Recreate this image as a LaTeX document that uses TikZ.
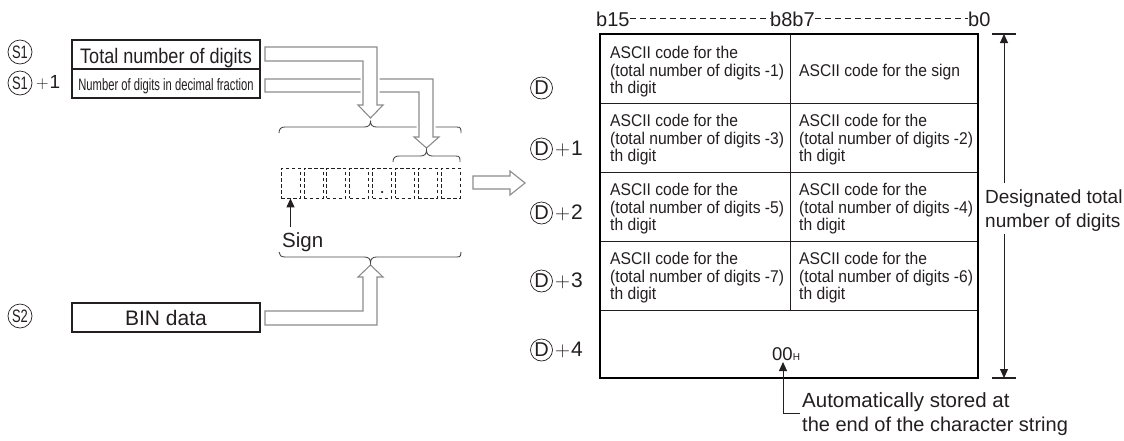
\documentclass[tikz,border=0pt]{standalone}
\usepackage{fontspec}
\usepackage{graphicx}
\setmainfont{Liberation Sans}
\usetikzlibrary{arrows.meta}
\definecolor{ink}{HTML}{231F20}
\definecolor{agray}{HTML}{8C8C8C}
\definecolor{bgray}{HTML}{4A4A4A}
\newcommand{\fsz}[1]{\fontsize{#1}{#1}\selectfont}
\newcommand{\cellfont}{\fontsize{17}{17.5}\selectfont}
\newcommand{\cellthree}[1]{\scalebox{0.92}[1]{\begin{tabular}{@{}l@{}}ASCII code for the\\(total number of digits -#1)\\th digit\end{tabular}}}
\newcommand{\hollowarrow}[1]{\draw[halo] #1; \draw[hollowline] #1;}
\begin{document}
\begin{tikzpicture}[x=1pt,y=-1pt,
 txt/.style={inner sep=0pt, text=ink},
 scirc/.style={circle, draw=ink, line width=0.7pt, minimum size=24pt, inner sep=0pt, text=ink, font=\fsz{18}},
 dcirc/.style={circle, draw=ink, line width=0.7pt, minimum size=22pt, inner sep=0pt, text=ink, font=\fsz{20}},
 cell/.style={inner sep=0pt, anchor=west, text=ink, font=\cellfont},
 dbox/.style={draw=ink, line width=0.8pt, dash pattern=on 3.5pt off 2.5pt, minimum width=19pt, minimum height=30pt, inner sep=0pt},
 halo/.style={draw=white, line width=5pt, line join=round},
 hollowline/.style={draw=agray, line width=1.1pt, fill=white},
 brace/.style={draw=bgray, line width=0.9pt},
 tip/.style={-{Triangle[length=9pt,width=8pt]}, line width=1pt, draw=ink},
 plus/.style={inner sep=0pt, anchor=west, text=ink, font=\fsz{21}},
]
\useasboundingbox (0,0) rectangle (1124,440);
\fill[white] (0,0) rectangle (1124,440);

% ---------- left: source operands ----------
\node[scirc] (s1) at (20,52) {\scalebox{0.72}[1]{S1}};
\node[scirc] (s1b) at (20,83) {\scalebox{0.72}[1]{S1}};
\node[plus, font=\fsz{19}] (s1p) at (36,83) {$+$\kern1pt 1};
\node[scirc] (s2) at (20,316) {\scalebox{0.72}[1]{S2}};

\node[draw=ink, line width=2pt, minimum width=188pt, minimum height=58pt, inner sep=0pt] (s1box) at (166,69) {};
\draw[ink, line width=1.3pt] (s1box.west) -- (s1box.east);
\node[txt, anchor=base, font=\fsz{21}] (tot) at (166,63.5) {\scalebox{0.86}[1]{Total number of digits}};
\node[txt, anchor=base, font=\fsz{16.5}] (dec) at (166,90.5) {\scalebox{0.68}[1]{Number of digits in decimal fraction}};

\node[draw=ink, line width=2pt, minimum width=188pt, minimum height=29pt, inner sep=0pt, text=ink, font=\fsz{21}] (bin) at (166,317.5) {BIN data};

% braces and hollow arrows
\draw[brace] (279,133) .. controls (279,129) and (281,127) .. (285,127) -- (364.5,127) .. controls (368.5,127) and (370.5,125) .. (370.5,121) .. controls (370.5,125) and (372.5,127) .. (376.5,127) -- (457,127) .. controls (461,127) and (461,129) .. (461,133);

\hollowarrow{(265,79) -- (433,79) -- (433,137) -- (439,137) -- (426.5,148) -- (414,137) -- (419,137) -- (419,92) -- (265,92) -- cycle}
\hollowarrow{(265,47) -- (377,47) -- (377,105) -- (383,105) -- (370.5,118) -- (358,105) -- (363,105) -- (363,61) -- (265,61) -- cycle}

\draw[brace] (393,162) .. controls (393,158) and (395,156) .. (399,156) -- (420.5,156) .. controls (424.5,156) and (426.5,154) .. (426.5,150) .. controls (426.5,154) and (428.5,156) .. (432.5,156) -- (456,156) .. controls (460,156) and (460,158) .. (460,162);

% dashed character boxes
\foreach \i in {0,...,7} {
  \node[dbox] (cb\i) at ({290.5+22.9*\i},183) {};
}
\fill[ink] (cb4.center |- 0,192) circle (1.2);

\coordinate (signfoot) at (290.5,227);
\draw[tip] (signfoot) -- (cb0.south);
\node[txt, anchor=base west, font=\fsz{20.5}] (sign) at (282,247) {Sign};

\hollowarrow{(265,311) -- (363,311) -- (363,277) -- (358,277) -- (370.5,265) -- (383,277) -- (377,277) -- (377,325) -- (265,325) -- cycle}

\draw[brace] (279,252) .. controls (279,255) and (281,257) .. (285,257) -- (364.5,257) .. controls (368.5,257) and (370.5,259) .. (370.5,263) .. controls (370.5,259) and (372.5,257) .. (376.5,257) -- (457,257) .. controls (461,257) and (461,255) .. (461,252);

% arrow to D
\draw[hollowline] (473,176) -- (510,176) -- (510,171) -- (525,183) -- (510,195) -- (510,189) -- (473,189) -- cycle;

% ---------- right: destination ----------
\node[dcirc] (d0) at (541.5,88) {D};
\node[dcirc] (d1) at (541.5,149) {D};
\node[plus] (p1) at (555,149) {$+$\kern1pt 1};
\node[dcirc] (d2) at (541.5,213) {D};
\node[plus] (p2) at (555,213) {$+$\kern1pt 2};
\node[dcirc] (d3) at (541.5,281) {D};
\node[plus] (p3) at (555,281) {$+$\kern1pt 3};
\node[dcirc] (d4) at (541.5,350) {D};
\node[plus] (p4) at (555,350) {$+$\kern1pt 4};

% bit labels
\node[txt, anchor=base west, font=\fsz{20}] (b15) at (596,26) {b15};
\node[txt, anchor=base west, font=\fsz{20}] (b8b7) at (770,26) {b8b7};
\node[txt, anchor=base west, font=\fsz{20}] (b0) at (968,26) {b0};
\draw[ink, line width=0.9pt, dash pattern=on 6pt off 4pt] (b15.east |- 0,18.5) -- (b8b7.west |- 0,18.5);
\draw[ink, line width=0.9pt, dash pattern=on 6pt off 4pt] (b8b7.east |- 0,18.5) -- (b0.west |- 0,18.5);

% table
\foreach \yy in {103,172,241,310} \draw[ink, line width=1pt] (600,\yy) -- (978,\yy);
\draw[ink, line width=1pt] (790,34) -- (790,310);
\draw[black, line width=2.3pt] (600,34) rectangle (978,378);

\node[cell] (c11) at (610,72.5) {\cellthree{1}};
\node[txt, anchor=base west, font=\cellfont] (c12) at (799,76.5) {\scalebox{0.92}[1]{ASCII code for the sign}};
\node[cell] (c21) at (610,140.5) {\cellthree{3}};
\node[cell] (c22) at (799,140.5) {\cellthree{2}};
\node[cell] (c31) at (610,209.5) {\cellthree{5}};
\node[cell] (c32) at (799,209.5) {\cellthree{4}};
\node[cell] (c41) at (610,278.5) {\cellthree{7}};
\node[cell] (c42) at (799,278.5) {\cellthree{6}};

\node[txt, anchor=base west, font=\fsz{18.5}] (zz) at (772,360) {00{\fsz{10}H}};
\coordinate (zztip) at (783,362);
\coordinate (hook) at (800,413);
\draw[tip] (hook) -- (783,413) -- (zztip);
\node[txt, anchor=base west, font=\fsz{20.5}] (au1) at (802,407) {Automatically stored at};
\node[txt, anchor=base west, font=\fsz{20}] (au2) at (802,431) {the end of the character string};

% dimension
\coordinate (dtop) at (1004,34);
\coordinate (dbot) at (1004,378);
\draw[ink, line width=1.2pt] (992,34) -- (1016,34);
\draw[ink, line width=1.2pt] (992,378) -- (1016,378);
\draw[tip] (1004,183) -- (dtop);
\draw[tip] (1004,234) -- (dbot);
\node[txt, anchor=base west, font=\fsz{19}] (dg1) at (985,203) {Designated total};
\node[txt, anchor=base west, font=\fsz{19}] (dg2) at (985,227) {number of digits};
\end{tikzpicture}
\end{document}
